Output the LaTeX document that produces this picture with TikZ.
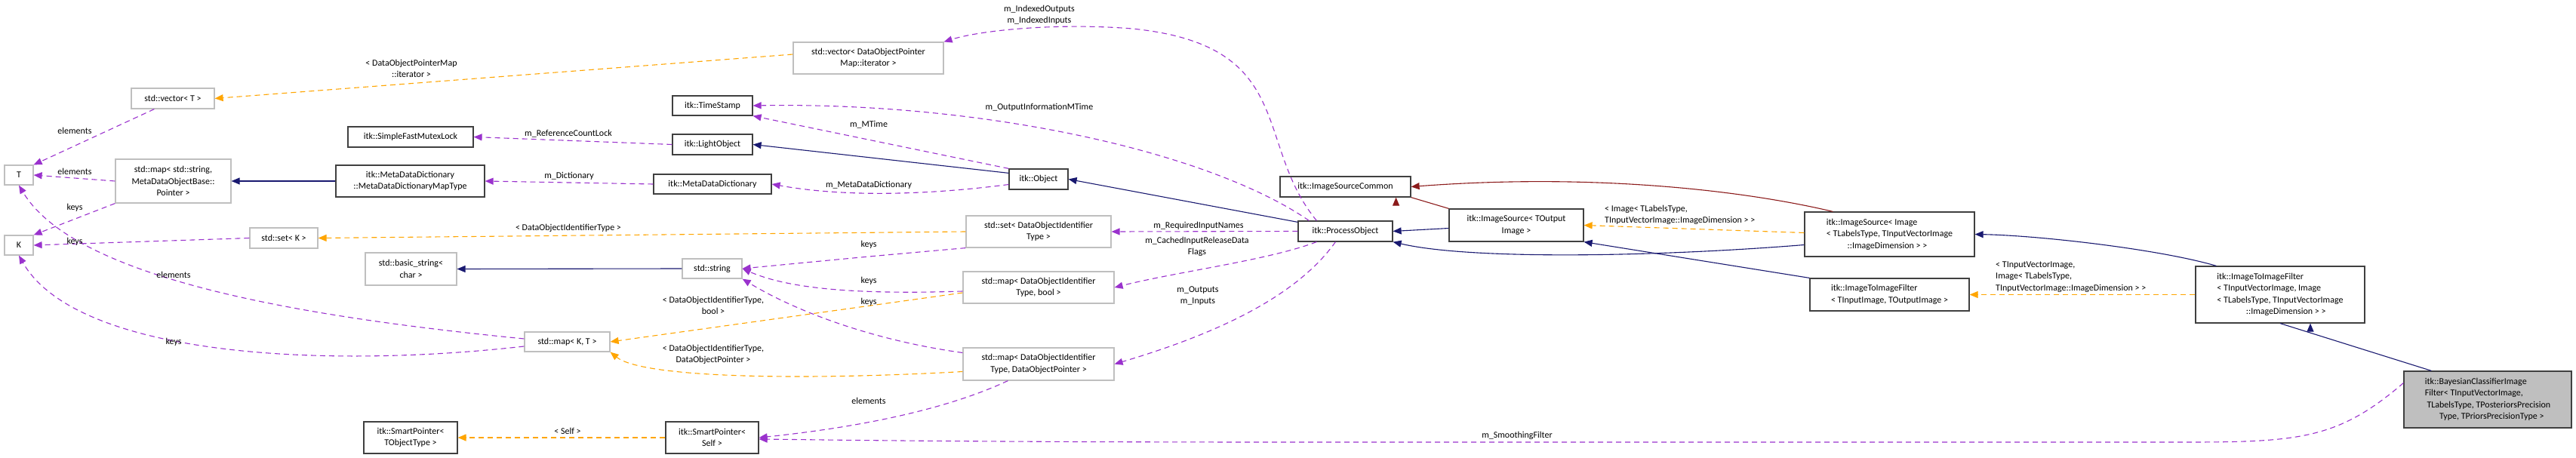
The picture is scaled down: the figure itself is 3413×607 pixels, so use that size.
\documentclass[tikz,border=0pt]{standalone}
\usepackage{fontspec}
\setmainfont{Carlito}
\usetikzlibrary{arrows.meta}
\definecolor{comp}{HTML}{9A32CD}
\definecolor{tmpl}{HTML}{FFA500}
\definecolor{inh}{HTML}{191970}
\definecolor{prot}{HTML}{8B1A1A}
\definecolor{stdb}{HTML}{BFBFBF}
\definecolor{itkb}{HTML}{404040}
\newcommand\bx[7]{\node[#6,minimum width={(#4-#2)*1pt},minimum height={(#5-#3)*1pt}] (#1) at ({(#2+#4)/2},{(#3+#5)/2}) {#7};}
\begin{document}
\begin{tikzpicture}[x=1pt,y=-1pt,
  font=\fontsize{12}{15.5}\selectfont,
  base/.style={draw,line width=1.2pt,inner sep=0pt,align=center},
  itk/.style={base,draw=itkb},
  std/.style={base,draw=stdb},
  me/.style={base,draw=itkb,fill=stdb},
  tip/.style={-{Triangle[length=11pt,width=9pt]}},
  c/.style={tip,comp,dashed,dash pattern=on 7pt off 5pt,line width=1.1pt},
  t/.style={tip,tmpl,dashed,dash pattern=on 7pt off 5pt,line width=1.1pt},
  i/.style={tip,inh,line width=1.1pt},
  p/.style={tip,prot,line width=1.1pt},
  lb/.style={inner sep=0pt,align=center},
  ll/.style={inner sep=0pt,align=left}]
\useasboundingbox (0,0) rectangle (3413,607);
% nodes
\bx{T}{6}{219}{44}{245}{std}{T}
\bx{K}{6}{312}{44}{338}{std}{K}
\bx{vecT}{174}{117}{284}{144}{std}{std::vector< T >}
\bx{mapstr}{153}{211}{306}{269}{std}{std::map< std::string,\\ MetaDataObjectBase::\\ Pointer >}
\bx{setK}{331}{302}{421}{329}{std}{std::set< K >}
\bx{mutex}{461}{168}{627}{195}{itk}{itk::SimpleFastMutexLock}
\bx{mdmt}{445}{219}{642}{261}{itk}{itk::MetaDataDictionary\\::MetaDataDictionaryMapType}
\bx{bstr}{484}{335}{605}{378}{std}{std::basic\_string<\\ char >}
\bx{mapKT}{695}{440}{808}{466}{std}{std::map< K, T >}
\bx{spT}{482}{559}{606}{601}{itk}{itk::SmartPointer<\\ TObjectType >}
\bx{vecD}{1051}{56}{1250}{98}{std}{std::vector< DataObjectPointer\\ Map::iterator >}
\bx{ts}{891}{127}{997}{153}{itk}{itk::TimeStamp}
\bx{lo}{891}{178}{997}{205}{itk}{itk::LightObject}
\bx{mdd}{866}{231}{1022}{257}{itk}{itk::MetaDataDictionary}
\bx{obj}{1337}{224}{1415}{251}{itk}{itk::Object}
\bx{setD}{1280}{286}{1472}{328}{std}{std::set< DataObjectIdentifier\\ Type >}
\bx{str}{904}{343}{983}{369}{std}{std::string}
\bx{mapB}{1276}{360}{1476}{402}{std}{std::map< DataObjectIdentifier\\ Type, bool >}
\bx{mapP}{1276}{461}{1476}{504}{std}{std::map< DataObjectIdentifier\\ Type, DataObjectPointer >}
\bx{spS}{882}{559}{1005}{601}{itk}{itk::SmartPointer<\\ Self >}
\bx{isc}{1696}{234}{1869}{261}{itk}{itk::ImageSourceCommon}
\bx{po}{1720}{293}{1845}{320}{itk}{itk::ProcessObject}
\bx{isT}{1920}{277}{2098}{320}{itk}{itk::ImageSource< TOutput\\ Image >}
\bx{isI}{2391}{281}{2616}{340}{itk}{\begin{tabular}{@{}l@{}}itk::ImageSource< Image\\ < TLabelsType, TInputVectorImage\\ \hspace*{2.3em}::ImageDimension > >\end{tabular}}
\bx{itiT}{2398}{369}{2609}{412}{itk}{\begin{tabular}{@{}l@{}}itk::ImageToImageFilter\\ < TInputImage, TOutputImage >\end{tabular}}
\bx{itiV}{2909}{353}{3133}{428}{itk}{\begin{tabular}{@{}l@{}}itk::ImageToImageFilter\\ < TInputVectorImage, Image\\ < TLabelsType, TInputVectorImage\\ \hspace*{3.2em}::ImageDimension > >\end{tabular}}
\bx{bay}{3185}{492}{3407}{567}{me}{\begin{tabular}{@{}l@{}}itk::BayesianClassifierImage\\ Filter< TInputVectorImage,\\ \ TLabelsType, TPosteriorsPrecision\\ \hspace*{1.6em}Type, TPriorsPrecisionType >\end{tabular}}
% composition edges
\draw[c] (vecT.south west)++(31,0) -- (T.north east);
\draw[c] (mapstr.west) -- (T.east);
\draw[c] (mapstr.south west) -- (K.north east);
\draw[c] (setK.west) -- (K.east);
\draw[c] (mapKT.west)++(0,-4) .. controls (400,420) and (100,370) .. (T.south);
\draw[c] (mapKT.west)++(0,6) .. controls (420,490) and (100,470) .. (K.south);
\draw[c] (lo.west) -- (mutex.east);
\draw[c] (mdd.west) -- (mdmt.east);
\draw[c] (obj.north west) -- (ts.south east);
\draw[c] (obj.west)++(0,7) .. controls (1200,262) and (1100,258) .. (mdd.east);
\draw[c] (po.north west)++(15,0) .. controls (1600,200) and (1300,135) .. (ts.east);
\draw[c] (po.north west)++(25,0) .. controls (1660,190) and (1720,60) .. (1500,38) .. controls (1400,30) and (1300,40) .. (vecD.north east);
\draw[c] (po.west)++(0,0) -- (setD.east);
\draw[c] (po.south west)++(25,0) .. controls (1680,345) and (1560,360) .. (mapB.east);
\draw[c] (po.south west)++(50,0) .. controls (1720,390) and (1620,440) .. (mapP.east);
\draw[c] (setD.south west) .. controls (1150,340) .. (str.east);
\draw[c] (mapB.west)++(0,5) .. controls (1150,390) and (1050,385) .. (str.east);
\draw[c] (mapP.west)++(0,-15) .. controls (1150,450) and (1050,410) .. (str.south east);
\draw[c] (mapP.south west)++(60,0) .. controls (1260,540) and (1150,565) .. (spS.east);
\draw[c] (bay.west)++(0,-22) .. controls (3100,580) and (3050,586) .. (2900,586) -- (1700,586) .. controls (1300,586) and (1100,583) .. (spS.east |- 0,582);
% template edges
\draw[t] (vecD.west)++(0,-5) -- (vecT.east);
\draw[t] (setD.west) -- (setK.east);
\draw[t] (mapB.west)++(0,7) -- (mapKT.east);
\draw[t] (mapP.west)++(0,10) .. controls (1050,505) and (850,500) .. (mapKT.south east);
\draw[t] (spS.west) -- (spT.east);
\draw[t] (isI.west)++(0,-2) -- (isT.east);
\draw[t] (itiV.west) -- (itiT.east);
% inheritance
\draw[i] (mdmt.west) -- (mapstr.east);
\draw[i] (str.west) -- (bstr.east);
\draw[i] (obj.north west)++(0,6) -- (lo.east);
\draw[i] (po.north west)++(0,2) -- (obj.east);
\draw[i] (isT.west)++(0,4) -- (po.east);
\draw[i] (isI.west)++(0,14) .. controls (2200,340) and (1950,345) .. (po.south east);
\draw[i] (itiT.north west) -- (isT.south east);
\draw[i] (itiV.north west)++(28,0) .. controls (2860,330) and (2700,312) .. (isI.east);
\draw[i] (bay.north west)++(37,0) -- (itiV.south)++(40,0);
% protected inheritance
\draw[p] (isT.north west) -- (isc.south east)++(-20,0);
\draw[p] (isI.north west)++(38,0) .. controls (2300,250) and (2100,230) .. (isc.east);
% labels
\node[lb] (l1) at (545,91) {< DataObjectPointerMap\\::iterator >};
\node[lb] (l2) at (99,173) {elements};
\node[lb] (l3) at (99,227) {elements};
\node[lb] (l4) at (99,275) {keys};
\node[lb] (l5) at (99,320) {keys};
\node[lb] (l6) at (230,364) {elements};
\node[lb] (l7) at (230,453) {keys};
\node[lb] (l8) at (753,177) {m\_ReferenceCountLock};
\node[lb] (l9) at (754,233) {m\_Dictionary};
\node[lb] (l10) at (753,302) {< DataObjectIdentifierType >};
\node[lb] (l11) at (752,571) {< Self >};
\node[lb] (l12) at (1377,20) {m\_IndexedOutputs\\m\_IndexedInputs};
\node[lb] (l13) at (1377,142) {m\_OutputInformationMTime};
\node[lb] (l14) at (1151,165) {m\_MTime};
\node[lb] (l15) at (1151,245) {m\_MetaDataDictionary};
\node[lb] (l16) at (1588,299) {m\_RequiredInputNames};
\node[lb] (l17) at (1586,327) {m\_CachedInputReleaseData\\Flags};
\node[lb] (l18) at (1151,324) {keys};
\node[lb] (l19) at (1151,372) {keys};
\node[lb] (l20) at (1151,400) {keys};
\node[lb] (l21) at (945,405) {< DataObjectIdentifierType,\\bool >};
\node[lb] (l22) at (945,470) {< DataObjectIdentifierType,\\DataObjectPointer >};
\node[lb] (l23) at (1587,392) {m\_Outputs\\m\_Inputs};
\node[lb] (l24) at (1151,531) {elements};
\node[lb] (l25) at (2010,577) {m\_SmoothingFilter};
\node[ll,anchor=west] (l26) at (2126,285) {< Image< TLabelsType,\\TInputVectorImage::ImageDimension > >};
\node[ll,anchor=west] (l27) at (2644,367) {< TInputVectorImage,\\Image< TLabelsType,\\TInputVectorImage::ImageDimension > >};
\end{tikzpicture}
\end{document}
